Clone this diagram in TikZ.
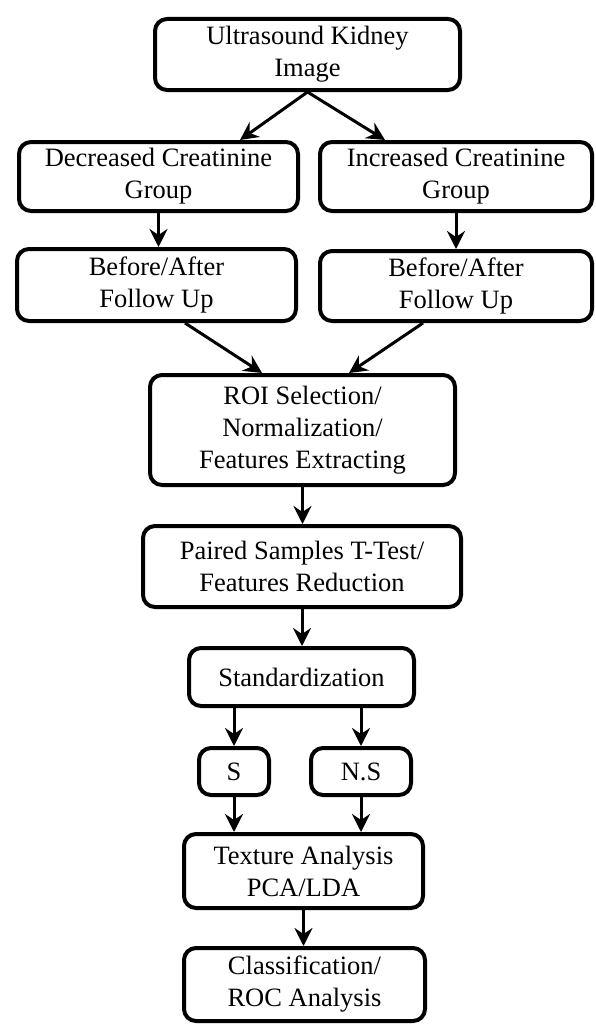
\documentclass[tikz,border=0pt]{standalone}
\usepackage{fontspec}
\setmainfont{Liberation Serif}
\usetikzlibrary{arrows.meta}
\begin{document}
\begin{tikzpicture}[x=1pt,y=-1pt,
    box/.style={draw, line width=4pt, rounded corners=12pt, align=center, inner sep=0pt,
        font=\fontsize{26.5}{32}\selectfont},
    arr/.style={line width=3pt, -{Stealth[length=18pt,width=18pt,inset=6pt]}}]
    \path[fill=white, use as bounding box] (0,0) rectangle (596,1025);
    \node[box, minimum width=305pt, minimum height=71pt] (img) at (307.5,54.5) {Ultrasound Kidney\\Image};
    \node[box, minimum width=279pt, minimum height=69pt] (dec) at (158.5,176.5) {Decreased Creatinine\\Group};
    \node[box, minimum width=272pt, minimum height=69pt] (inc) at (456,176.5) {Increased Creatinine\\Group};
    \node[box, minimum width=279pt, minimum height=72pt] (bfl) at (156.5,285) {Before/After\\Follow Up};
    \node[box, minimum width=272pt, minimum height=70pt] (bfr) at (456,286) {Before/After\\Follow Up};
    \node[box, minimum width=305pt, minimum height=110pt] (roi) at (302.5,430) {ROI Selection/\\Normalization/\\Features Extracting};
    \node[box, minimum width=318pt, minimum height=81pt] (pst) at (302,566.5) {Paired Samples T-Test/\\Features Reduction};
    \node[box, minimum width=225pt, minimum height=58pt] (std) at (301.5,677) {Standardization};
    \node[box, minimum width=70pt, minimum height=47pt] (s) at (234,771.5) {S};
    \node[box, minimum width=100pt, minimum height=47pt] (ns) at (361,771.5) {N.S};
    \node[box, minimum width=239pt, minimum height=74pt] (tex) at (303.5,871) {Texture Analysis\\PCA/LDA};
    \node[box, minimum width=241pt, minimum height=73pt] (cls) at (304.5,984.5) {Classification/\\ROC Analysis};
    \draw[arr] (img.south) -- ([xshift=81.5pt]dec.north);
    \draw[arr] (img.south) -- ([xshift=-71pt]inc.north);
    \draw[arr] (dec.south) -- (dec.south |- bfl.north);
    \draw[arr] (inc.south) -- (inc.south |- bfr.north);
    \draw[arr] ([xshift=28.5pt]bfl.south) -- ([xshift=-40.5pt]roi.north);
    \draw[arr] ([xshift=-33pt]bfr.south) -- ([xshift=46.5pt]roi.north);
    \draw[arr] (roi.south) -- (roi.south |- pst.north);
    \draw[arr] (pst.south) -- (pst.south |- std.north);
    \draw[arr] (s.north |- std.south) -- (s.north);
    \draw[arr] (ns.north |- std.south) -- (ns.north);
    \draw[arr] (s.south) -- (s.south |- tex.north);
    \draw[arr] (ns.south) -- (ns.south |- tex.north);
    \draw[arr] (tex.south) -- (tex.south |- cls.north);
\end{tikzpicture}
\end{document}
